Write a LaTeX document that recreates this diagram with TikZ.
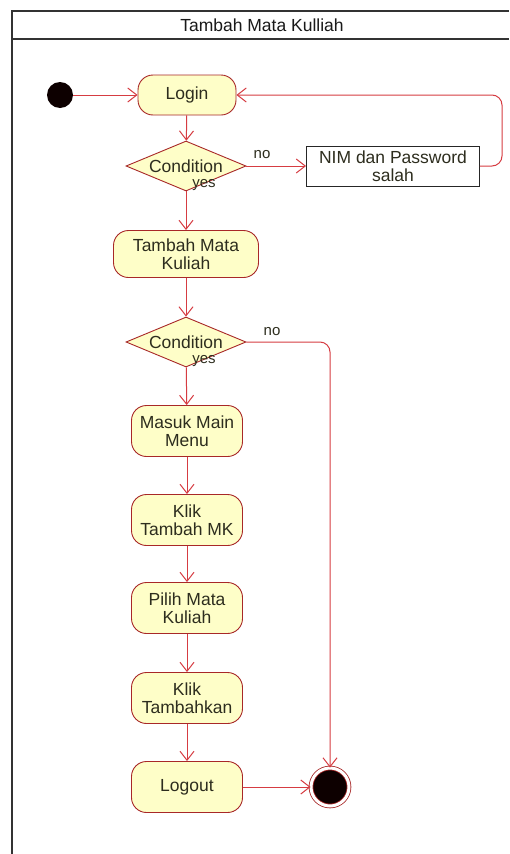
\documentclass[tikz,border=0pt]{standalone}
\usepackage{fontspec}
\setmainfont{Liberation Sans}
\usetikzlibrary{shapes.geometric,arrows.meta}
\definecolor{actfill}{RGB}{254,254,200}
\definecolor{actdraw}{RGB}{168,40,40}
\definecolor{flowc}{RGB}{214,60,66}
\definecolor{txtc}{RGB}{45,45,30}
\tikzset{
  act/.style={draw=actdraw, fill=actfill, rounded corners=15pt, line width=0.9pt,
    minimum height=48pt, align=center, font=\fontsize{17.5}{18}\selectfont, text=txtc, inner sep=1pt},
  cond/.style={diamond, aspect=2.6, draw=actdraw, fill=actfill, line width=0.9pt, minimum width=120pt,
    minimum height=50pt, inner sep=0pt, font=\fontsize{17.5}{18}\selectfont, text=txtc},
  plainbox/.style={draw=black!85, fill=white, line width=0.9pt, minimum width=173pt, minimum height=40pt,
    align=center, font=\fontsize{17.5}{18}\selectfont, text=txtc, inner sep=1pt},
  lbl/.style={font=\fontsize{15}{16}\selectfont, text=txtc, inner sep=0pt},
  flow/.style={draw=flowc, line width=1pt, -{Straight Barb[length=9pt,width=14pt,line width=1pt]}},
  startnode/.style={circle, fill=black!95!red, minimum size=26pt, inner sep=0pt},
  endnode/.style={circle, fill=black!95!red, draw=actdraw, line width=0.8pt, double=white,
    double distance=3pt, minimum size=38pt, inner sep=0pt},
  frame/.style={draw=black!80, line width=1.2pt}
}
\begin{document}
\begin{tikzpicture}[x=1pt,y=-1pt]
\useasboundingbox[fill=white] (0,0) rectangle (509,854);
% frame
\draw[frame] (12,854) -- (12,11) -- (509,11);
\draw[frame] (12,39) -- (509,39);
\node[font=\fontsize{17.5}{18}\selectfont, text=black!90] (title) at (262,25) {Tambah Mata Kulliah};
% nodes
\node[startnode] (init) at (60,95) {};
\node[act, minimum width=98pt, minimum height=40pt] (login) at (187,95) {Login};
\node[cond] (c1) at (186,166) {Condition};
\node[lbl] (yes1) at (204,185) {yes};
\node[lbl] (no1) at (262,155) {no};
\node[plainbox] (nim) at (393,166) {NIM dan Password\\salah};
\coordinate (rt) at (502,95);
\node[act, minimum width=145pt, minimum height=47pt] (tmk) at (186,254) {Tambah Mata\\Kuliah};
\node[cond] (c2) at (186,342) {Condition};
\node[lbl] (yes2) at (204,361) {yes};
\node[lbl] (no2) at (272,332) {no};
\node[act, minimum width=111pt, minimum height=51pt] (mmm) at (187,431) {Masuk Main\\Menu};
\node[act, minimum width=111pt, minimum height=51pt] (ktm) at (187,520) {Klik\\Tambah MK};
\node[act, minimum width=111pt, minimum height=51pt] (pmk) at (187,608) {Pilih Mata\\Kuliah};
\node[act, minimum width=111pt, minimum height=51pt] (ktb) at (187,698) {Klik\\Tambahkan};
\node[act, minimum width=111pt, minimum height=51pt] (logout) at (187,787) {Logout};
\node[endnode] (fin) at (330,787) {};
% connectors
\draw[flow] (init) -- (login);
\draw[flow] (login) -- (c1);
\draw[flow] (c1) -- (nim);
\draw[flow, rounded corners=10pt] (nim.east) -| (rt) -- (login.east);
\draw[flow] (c1) -- (tmk);
\draw[flow] (tmk) -- (c2);
\draw[flow, rounded corners=10pt] (c2.east) -| (fin.north);
\draw[flow] (c2) -- (mmm);
\draw[flow] (mmm) -- (ktm);
\draw[flow] (ktm) -- (pmk);
\draw[flow] (pmk) -- (ktb);
\draw[flow] (ktb) -- (logout);
\draw[flow] (logout) -- (fin);
\end{tikzpicture}
\end{document}
